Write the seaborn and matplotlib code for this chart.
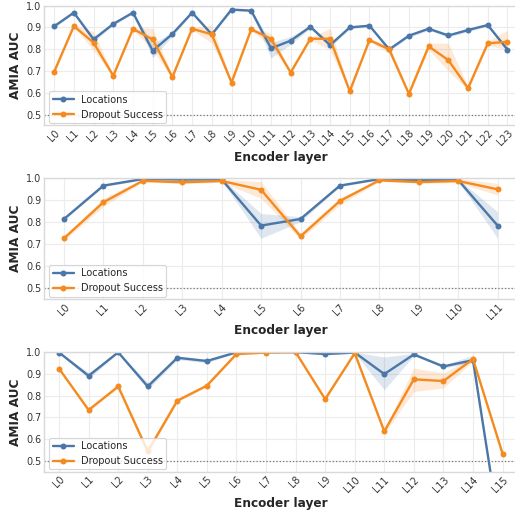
import numpy as np
import pandas as pd
import matplotlib
matplotlib.use("Agg")
import matplotlib.pyplot as plt
import seaborn as sns

# ---------------- data ----------------
series_names = ["Locations", "Dropout Success"]

# Panel 1: 24 layers
p1_loc = [0.905, 0.968, 0.845, 0.916, 0.968, 0.793, 0.870, 0.968, 0.868, 0.982, 0.977, 0.804,
          0.839, 0.903, 0.819, 0.900, 0.908, 0.799, 0.862, 0.894, 0.863, 0.888, 0.911, 0.798]
p1_loc_lo = [0.900, 0.963, 0.835, 0.910, 0.963, 0.760, 0.860, 0.963, 0.860, 0.977, 0.972, 0.760,
             0.822, 0.897, 0.808, 0.894, 0.902, 0.792, 0.855, 0.887, 0.856, 0.881, 0.905, 0.790]
p1_loc_hi = [0.910, 0.973, 0.858, 0.922, 0.973, 0.825, 0.880, 0.973, 0.876, 0.987, 0.982, 0.832,
             0.858, 0.909, 0.832, 0.906, 0.914, 0.806, 0.869, 0.901, 0.870, 0.895, 0.917, 0.808]
p1_drop = [0.696, 0.906, 0.830, 0.678, 0.893, 0.845, 0.672, 0.894, 0.868, 0.647, 0.891, 0.848,
           0.693, 0.848, 0.848, 0.607, 0.842, 0.799, 0.595, 0.813, 0.750, 0.621, 0.827, 0.834]
p1_drop_lo = [0.690, 0.900, 0.795, 0.672, 0.887, 0.798, 0.666, 0.888, 0.828, 0.641, 0.885, 0.812,
              0.687, 0.842, 0.798, 0.601, 0.836, 0.780, 0.589, 0.797, 0.700, 0.613, 0.818, 0.797]
p1_drop_hi = [0.702, 0.912, 0.880, 0.684, 0.899, 0.896, 0.678, 0.900, 0.910, 0.653, 0.897, 0.872,
              0.699, 0.854, 0.896, 0.613, 0.848, 0.818, 0.601, 0.828, 0.828, 0.629, 0.836, 0.886]

# Panel 2: 12 layers
p2_loc = [0.815, 0.967, 0.997, 0.995, 0.995, 0.785, 0.815, 0.967, 0.997, 0.992, 0.992, 0.785]
p2_loc_lo = [0.809, 0.962, 0.993, 0.990, 0.990, 0.727, 0.803, 0.962, 0.993, 0.987, 0.987, 0.727]
p2_loc_hi = [0.821, 0.972, 1.000, 1.000, 1.000, 0.840, 0.825, 0.972, 1.000, 0.997, 0.997, 0.848]
p2_drop = [0.727, 0.891, 0.989, 0.982, 0.988, 0.948, 0.736, 0.897, 0.991, 0.983, 0.988, 0.950]
p2_drop_lo = [0.717, 0.872, 0.984, 0.976, 0.982, 0.909, 0.722, 0.880, 0.986, 0.978, 0.980, 0.924]
p2_drop_hi = [0.737, 0.910, 0.994, 0.988, 0.996, 0.985, 0.750, 0.912, 0.996, 0.988, 0.998, 0.977]

# Panel 3: 16 layers
p3_loc = [0.998, 0.891, 0.999, 0.842, 0.974, 0.959, 0.999, 1.000, 1.000, 0.991, 0.998, 0.899,
          0.989, 0.934, 0.963, 0.094]
p3_loc_lo = [0.995, 0.878, 0.996, 0.828, 0.966, 0.951, 0.996, 0.997, 0.997, 0.987, 0.995, 0.827,
             0.984, 0.927, 0.952, 0.080]
p3_loc_hi = [1.000, 0.906, 1.000, 0.860, 0.982, 0.967, 1.000, 1.000, 1.000, 0.995, 1.000, 0.977,
             0.994, 0.941, 0.985, 0.108]
p3_drop = [0.924, 0.734, 0.842, 0.544, 0.777, 0.846, 0.991, 0.998, 1.000, 0.784, 0.995, 0.636,
           0.875, 0.867, 0.968, 0.534]
p3_drop_lo = [0.918, 0.728, 0.836, 0.530, 0.771, 0.840, 0.986, 0.995, 0.997, 0.778, 0.990, 0.626,
              0.819, 0.835, 0.958, 0.526]
p3_drop_hi = [0.930, 0.740, 0.848, 0.558, 0.783, 0.852, 0.996, 1.000, 1.000, 0.790, 1.000, 0.646,
              0.927, 0.904, 0.978, 0.542]

panels = [
    (p1_loc, p1_loc_lo, p1_loc_hi, p1_drop, p1_drop_lo, p1_drop_hi),
    (p2_loc, p2_loc_lo, p2_loc_hi, p2_drop, p2_drop_lo, p2_drop_hi),
    (p3_loc, p3_loc_lo, p3_loc_hi, p3_drop, p3_drop_lo, p3_drop_hi),
]

colors = ["#4A77A8", "#F58A1F"]

# ---------------- plot ----------------
sns.set_theme(style="whitegrid")
plt.rcParams['font.family'] = ['DejaVu Sans']

fig = plt.figure(figsize=(5.15, 5.14), dpi=100)
positions = [(0.086, 0.756, 0.9185, 0.233),
             (0.086, 0.418, 0.9185, 0.235),
             (0.086, 0.082, 0.9185, 0.233)]

for (loc, loc_lo, loc_hi, drop, drop_lo, drop_hi), pos in zip(panels, positions):
    ax = fig.add_axes(pos)
    n = len(loc)
    x = np.arange(n)
    labels = [f"L{i}" for i in range(n)]
    df = pd.DataFrame({
        "layer": np.concatenate([x, x]),
        "auc": np.concatenate([loc, drop]),
        "series": [series_names[0]] * n + [series_names[1]] * n,
    })
    for lo, hi, c in [(loc_lo, loc_hi, colors[0]), (drop_lo, drop_hi, colors[1])]:
        ax.fill_between(x, lo, hi, color=c, alpha=0.18, lw=0)
    sns.lineplot(data=df, x="layer", y="auc", hue="series", palette=colors,
                 marker="o", markersize=4.3, markeredgewidth=0, linewidth=1.7,
                 ax=ax, legend=True)
    ax.axhline(0.5, color="#777777", linestyle=":", linewidth=0.9)
    ax.set_xlim(-0.5, n - 0.5)
    ax.set_ylim(0.45, 1.0)
    ax.set_yticks([0.5, 0.6, 0.7, 0.8, 0.9, 1.0])
    ax.set_yticklabels(["0.5", "0.6", "0.7", "0.8", "0.9", "1.0"], fontsize=6.9, color="#333333")
    ax.set_xticks(x)
    ax.set_xticklabels(labels, rotation=45, ha="right", rotation_mode="anchor",
                       fontsize=6.9, color="#333333")
    ax.tick_params(axis="both", pad=2, length=0)
    ax.set_xlabel("Encoder layer", fontsize=8.7, fontweight="bold", labelpad=2)
    ax.set_ylabel("AMIA AUC", fontsize=8.7, fontweight="bold", labelpad=3)
    ax.grid(True, color="#ececec", linewidth=0.8)
    for s in ax.spines.values():
        s.set_color("#d9d9d9")
        s.set_linewidth(1.0)
    leg = ax.legend(loc="lower left", bbox_to_anchor=(0.0106, 0.02), borderaxespad=0,
                    fontsize=7.0, frameon=True, borderpad=0.35, handlelength=2.2,
                    handletextpad=0.7, labelspacing=0.5)
    leg.get_frame().set_edgecolor("#cccccc")
    leg.get_frame().set_linewidth(0.8)

fig.savefig("out.png", dpi=100)
